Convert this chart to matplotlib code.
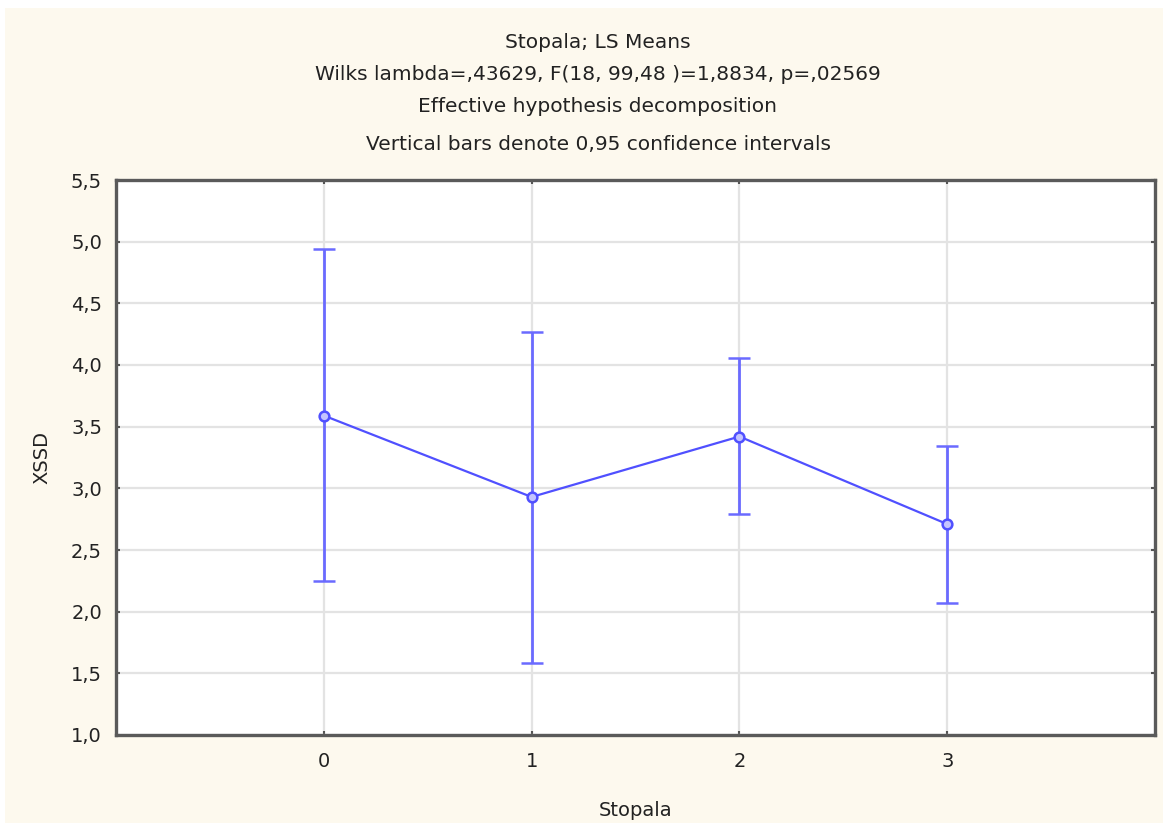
import matplotlib
matplotlib.use("Agg")
import matplotlib.pyplot as plt
from matplotlib.patches import Rectangle

categories = [0, 1, 2, 3]
means = [3.59, 2.93, 3.42, 2.71]
upper = [4.94, 4.27, 4.06, 3.34]
lower = [2.25, 1.58, 2.79, 2.07]
yticks = [1.0, 1.5, 2.0, 2.5, 3.0, 3.5, 4.0, 4.5, 5.0, 5.5]
ytick_labels = ["1,0", "1,5", "2,0", "2,5", "3,0", "3,5", "4,0", "4,5", "5,0", "5,5"]
title_lines = [
    "Stopala; LS Means",
    "Wilks lambda=,43629, F(18, 99,48 )=1,8834, p=,02569",
    "Effective hypothesis decomposition",
    "Vertical bars denote 0,95 confidence intervals",
]

plt.rcParams['font.family'] = ['DejaVu Sans']
W, H = 1168, 825
fig = plt.figure(figsize=(W / 100, H / 100), dpi=100, facecolor="white")
fig.patches.append(Rectangle((5 / W, 2 / H), (1163 - 5) / W, (817 - 2) / H,
                             transform=fig.transFigure, facecolor="#fdf9ee",
                             edgecolor="none", zorder=-10))

L, R, T, B = 116, 1155, 180, 735
ax = fig.add_axes([L / W, 1 - B / H, (R - L) / W, (B - T) / H])
ax.set_zorder(5)
ax.set_facecolor("white")
blue = "#5050ff"
err_lo = [m - l for m, l in zip(means, lower)]
err_hi = [u - m for m, u in zip(means, upper)]
ax.errorbar(categories, means, yerr=[err_lo, err_hi], color=blue, lw=1.6,
            elinewidth=2.0, ecolor="#6a6aff", capsize=8, capthick=1.8,
            marker="o", ms=7, mfc="#c4c4ff", mec=blue, mew=1.8, zorder=3)

ax.set_xlim(-1, 4)
ax.set_ylim(1.0, 5.5)
ax.set_xticks(categories)
ax.set_xticklabels([str(c) for c in categories])
ax.set_yticks(yticks)
ax.set_yticklabels(ytick_labels)
ax.grid(True, color="#e3e3e3", lw=1.6, zorder=0)
ax.set_axisbelow(True)
ax.tick_params(axis="y", direction="in", length=3, width=1.5, colors="#555555",
               labelcolor="#222222", labelsize=14, pad=10, right=True)
ax.tick_params(axis="x", direction="in", length=3, width=1.5, colors="#555555",
               labelcolor="#222222", labelsize=14, pad=12, top=True)
for side in ["left", "bottom", "top", "right"]:
    ax.spines[side].set_linewidth(2.4)
    ax.spines[side].set_color("#5a5a5a")

ax.set_xlabel("Stopala", fontsize=14, color="#222222", labelpad=22)
ax.set_ylabel("XSSD", fontsize=14, color="#222222", labelpad=14)

ys = [42, 74, 107, 144]
for t, y in zip(title_lines, ys):
    fig.text(598 / W, 1 - y / H, t, ha="center", va="center", fontsize=14.5,
             color="#222222")

fig.savefig("out.png", dpi=100, facecolor=fig.get_facecolor())
